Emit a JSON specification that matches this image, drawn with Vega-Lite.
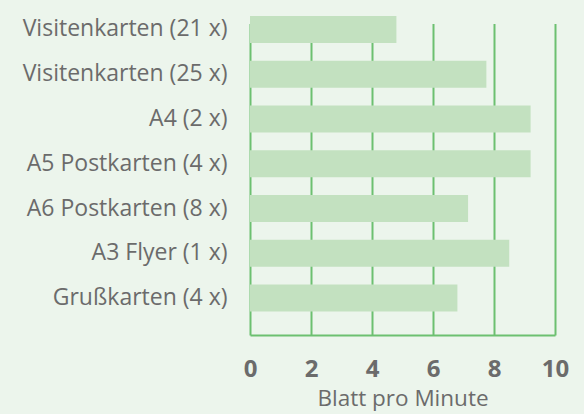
{
  "$schema": "https://vega.github.io/schema/vega-lite/v6.json",
  "width": 305,
  "height": 327,
  "autosize": "none",
  "padding": {"left": 250, "top": 8, "right": 29, "bottom": 79},
  "background": "#ecf5ec",
  "config": {"view": {"stroke": null}, "font": "Open Sans"},
  "data": {"values": [
    {"produkt": "Visitenkarten (21 x)", "blatt": 4.8},
    {"produkt": "Visitenkarten (25 x)", "blatt": 7.75},
    {"produkt": "A4 (2 x)", "blatt": 9.2},
    {"produkt": "A5 Postkarten (4 x)", "blatt": 9.2},
    {"produkt": "A6 Postkarten (8 x)", "blatt": 7.15},
    {"produkt": "A3 Flyer (1 x)", "blatt": 8.5},
    {"produkt": "Grußkarten (4 x)", "blatt": 6.8}
  ]},
  "mark": {"type": "bar", "color": "#c3e1c0"},
  "encoding": {
    "y": {
      "field": "produkt", "type": "nominal", "sort": null,
      "scale": {"range": [0, 311.5], "paddingInner": 0.4, "paddingOuter": 0.18},
      "axis": {"title": null, "domain": false, "ticks": false, "grid": false,
        "labelFontSize": 23, "labelColor": "#6b6b6b", "labelPadding": 23, "labelLimit": 260, "labelFont": "Open Sans"}
    },
    "x": {
      "field": "blatt", "type": "quantitative",
      "scale": {"domain": [0, 10], "nice": false},
      "axis": {"values": [0, 2, 4, 6, 8, 10], "title": "Blatt pro Minute",
        "grid": true, "gridColor": "#6cc070", "gridWidth": 2, "gridOpacity": 1,
        "domain": true, "domainColor": "#6cc070", "domainWidth": 2,
        "ticks": false, "labelFontSize": 24, "labelFontWeight": "bold", "labelColor": "#6b6b6b",
        "labelPadding": 22, "labelFlush": false,
        "titleFontSize": 22.5, "titleFontWeight": "normal", "titleColor": "#6b6b6b", "titlePadding": 6}
    }
  }
}
